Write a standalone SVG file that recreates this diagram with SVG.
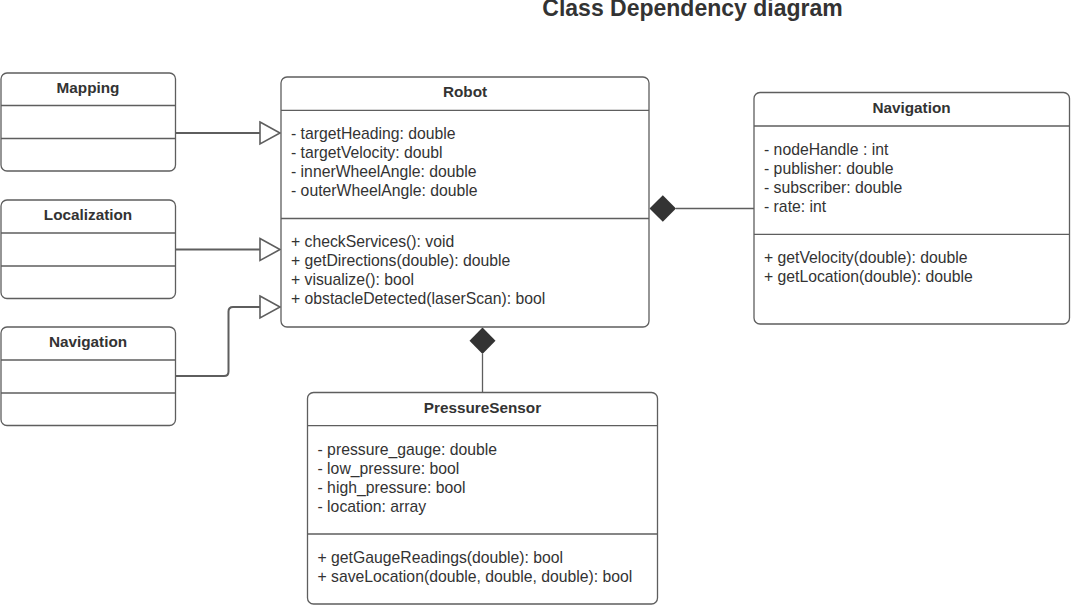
<svg xmlns="http://www.w3.org/2000/svg" width="1077" height="611" viewBox="0 0 1077 611">
<style>
.box{fill:#ffffff;stroke:#5e5e5e;stroke-width:1.3}
.sep{stroke:#5e5e5e;stroke-width:1.3;fill:none}
.hd{font-family:"Liberation Sans",Arial,sans-serif;font-weight:bold;font-size:15.3px;fill:#333333;text-anchor:middle}
.tx{font-family:"Liberation Sans",Arial,sans-serif;font-size:15.75px;fill:#333333}
.title{font-family:"Liberation Sans",Arial,sans-serif;font-weight:bold;font-size:23px;fill:#333333;text-anchor:middle}
.ln{stroke:#5e5e5e;stroke-width:2;fill:none}
.tri{fill:#ffffff;stroke:#5e5e5e;stroke-width:1.6}
.dia{fill:#333333;stroke:none}
</style>
<rect width="1077" height="611" fill="#ffffff"/>
<text class="title" x="692.5" y="16">Class Dependency diagram</text>

<g id="connectors">
<path class="ln" d="M175.5,133 H260"/>
<polygon class="tri" points="260,122 280,133 260,144"/>
<path class="ln" d="M175.5,249.5 H260"/>
<polygon class="tri" points="260,238.5 280,249.5 260,260.5"/>
<path class="ln" d="M175.5,376 H224 Q228.5,376 228.5,371.5 V311.5 Q228.5,307 233,307 H260"/>
<polygon class="tri" points="260,296 280,307 260,318"/>
<path class="ln" d="M676,208.5 H754" style="stroke-width:1.3"/>
<polygon class="dia" points="649.5,208.5 662.8,195.2 676,208.5 662.8,221.8"/>
<path class="ln" d="M482.5,354 V392.5" style="stroke-width:1.3"/>
<polygon class="dia" points="482.5,327.5 495.5,340.8 482.5,354 469.5,340.8"/>
</g>

<g id="mapping">
<rect class="box" x="1" y="73" width="174.5" height="98" rx="6"/>
<line class="sep" x1="1" y1="105.5" x2="175.5" y2="105.5"/>
<line class="sep" x1="1" y1="138.5" x2="175.5" y2="138.5"/>
<text class="hd" x="88" y="93">Mapping</text>
</g>

<g id="localization">
<rect class="box" x="1" y="200" width="174.5" height="98.5" rx="6"/>
<line class="sep" x1="1" y1="233" x2="175.5" y2="233"/>
<line class="sep" x1="1" y1="266" x2="175.5" y2="266"/>
<text class="hd" x="88" y="220">Localization</text>
</g>

<g id="navigation-left">
<rect class="box" x="1" y="327" width="174.5" height="98.5" rx="6"/>
<line class="sep" x1="1" y1="360" x2="175.5" y2="360"/>
<line class="sep" x1="1" y1="393" x2="175.5" y2="393"/>
<text class="hd" x="88" y="347">Navigation</text>
</g>

<g id="robot">
<rect class="box" x="281" y="77" width="368" height="250" rx="6"/>
<line class="sep" x1="281" y1="110.3" x2="649" y2="110.3"/>
<line class="sep" x1="281" y1="218.5" x2="649" y2="218.5"/>
<text class="hd" x="465" y="97">Robot</text>
<text class="tx" x="291" y="138.5">- targetHeading: double</text>
<text class="tx" x="291" y="157.5">- targetVelocity: doubl</text>
<text class="tx" x="291" y="176.5">- innerWheelAngle: double</text>
<text class="tx" x="291" y="195.5">- outerWheelAngle: double</text>
<text class="tx" x="291" y="247">+ checkServices(): void</text>
<text class="tx" x="291" y="266">+ getDirections(double): double</text>
<text class="tx" x="291" y="285">+ visualize(): bool</text>
<text class="tx" x="291" y="304">+ obstacleDetected(laserScan): bool</text>
</g>

<g id="navigation-right">
<rect class="box" x="754" y="92.5" width="315.5" height="231.5" rx="6"/>
<line class="sep" x1="754" y1="126" x2="1069.5" y2="126"/>
<line class="sep" x1="754" y1="234.3" x2="1069.5" y2="234.3"/>
<text class="hd" x="911.5" y="113">Navigation</text>
<text class="tx" x="764" y="154.5">- nodeHandle : int</text>
<text class="tx" x="764" y="173.5">- publisher: double</text>
<text class="tx" x="764" y="192.5">- subscriber: double</text>
<text class="tx" x="764" y="211.5">- rate: int</text>
<text class="tx" x="764" y="263">+ getVelocity(double): double</text>
<text class="tx" x="764" y="282">+ getLocation(double): double</text>
</g>

<g id="pressure-sensor">
<rect class="box" x="307.5" y="392.5" width="350" height="211.5" rx="6"/>
<line class="sep" x1="307.5" y1="425.7" x2="657.5" y2="425.7"/>
<line class="sep" x1="307.5" y1="534" x2="657.5" y2="534"/>
<text class="hd" x="482.5" y="412.5">PressureSensor</text>
<text class="tx" x="317.5" y="454.5">- pressure_gauge: double</text>
<text class="tx" x="317.5" y="473.5">- low_pressure: bool</text>
<text class="tx" x="317.5" y="492.5">- high_pressure: bool</text>
<text class="tx" x="317.5" y="511.5">- location: array</text>
<text class="tx" x="317.5" y="563">+ getGaugeReadings(double): bool</text>
<text class="tx" x="317.5" y="582">+ saveLocation(double, double, double): bool</text>
</g>
</svg>
